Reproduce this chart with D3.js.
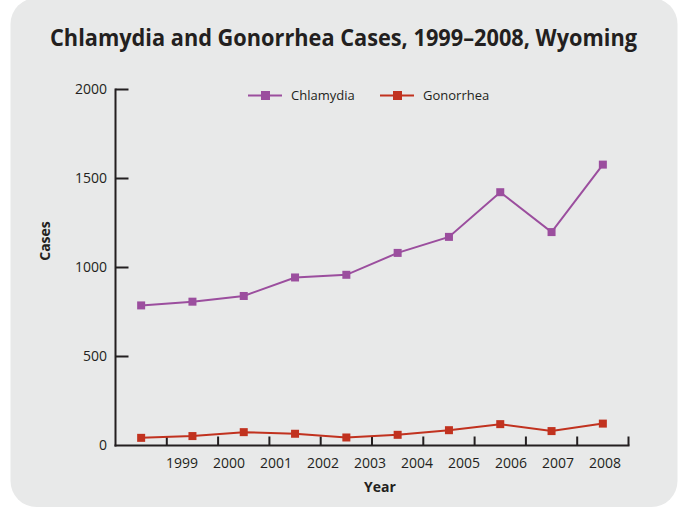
<!DOCTYPE html>
<html>
<head>
<meta charset="utf-8">
<script src="https://cdn.jsdelivr.net/npm/d3@7"></script>
<style>
  html, body { margin: 0; padding: 0; background: #ffffff; }
  svg { display: block; font-family: "Open Sans", "DejaVu Sans", sans-serif; }
</style>
</head>
<body>
<svg id="chart" width="684" height="508"></svg>
<script>
(function () {
  "use strict";

  // ── Data ───────────────────────────────────────────────────────────────────
  var years = ["1999", "2000", "2001", "2002", "2003", "2004", "2005", "2006", "2007", "2008"];
  var chlamydia = [787, 808, 840, 944, 959, 1082, 1172, 1423, 1199, 1578];
  var gonorrhea = [43, 53, 75, 66, 45, 60, 86, 120, 81, 123];
  var yTicks = [0, 500, 1000, 1500, 2000];

  var C = {
    panel: "#e8e9e9",
    ink: "#231f20",
    chlamydia: "#9b4e9e",
    gonorrhea: "#c1321f"
  };

  var svg = d3.select("#chart");

  // panel background
  svg.append("rect")
    .attr("x", 10.5).attr("y", -2)
    .attr("width", 667).attr("height", 509)
    .attr("rx", 26).attr("ry", 26)
    .attr("fill", C.panel);

  // ── Scales ─────────────────────────────────────────────────────────────────
  var x = d3.scaleBand().domain(years).range([115.5, 628.5]).padding(0);
  var xLabel = d3.scalePoint().domain(years).range([182, 605]);
  var y = d3.scaleLinear().domain([0, 2000]).range([445.5, 89.5]);

  function cx(d, i) { return x(years[i]) + x.bandwidth() / 2; }

  // ── Axes ───────────────────────────────────────────────────────────────────
  var axisG = svg.append("g").attr("stroke", C.ink).attr("stroke-width", 2).attr("fill", "none");

  axisG.append("line")
    .attr("x1", x.range()[0]).attr("x2", x.range()[0])
    .attr("y1", y(2000) - 1).attr("y2", y(0) + 1);
  axisG.append("line")
    .attr("x1", x.range()[0] - 1).attr("x2", x.range()[1] + 1)
    .attr("y1", y(0)).attr("y2", y(0));

  // y ticks (inward)
  axisG.selectAll("line.yt")
    .data(yTicks.slice(1))
    .join("line")
    .attr("class", "yt")
    .attr("x1", x.range()[0]).attr("x2", x.range()[0] + 13)
    .attr("y1", function (d) { return y(d); })
    .attr("y2", function (d) { return y(d); });

  // x ticks (upward, at band right edges)
  axisG.selectAll("line.xt")
    .data(years)
    .join("line")
    .attr("class", "xt")
    .attr("x1", function (d) { return x(d) + x.bandwidth(); })
    .attr("x2", function (d) { return x(d) + x.bandwidth(); })
    .attr("y1", y(0)).attr("y2", y(0) - 9);

  svg.append("g").selectAll("text")
    .data(yTicks)
    .join("text")
    .attr("x", 107)
    .attr("y", function (d) { return y(d); })
    .attr("dy", "0.35em")
    .attr("text-anchor", "end")
    .attr("font-size", 14)
    .attr("fill", C.ink)
    .text(function (d) { return d; });

  svg.append("g").selectAll("text")
    .data(years)
    .join("text")
    .attr("x", function (d) { return xLabel(d); })
    .attr("y", 468)
    .attr("text-anchor", "middle")
    .attr("font-size", 14)
    .attr("fill", C.ink)
    .text(function (d) { return d; });

  // axis titles
  svg.append("text")
    .attr("x", 380).attr("y", 492)
    .attr("text-anchor", "middle")
    .attr("font-size", 14).attr("font-weight", "bold")
    .attr("fill", C.ink)
    .text("Year");

  svg.append("text")
    .attr("transform", "translate(50,241) rotate(-90)")
    .attr("text-anchor", "middle")
    .attr("font-size", 14).attr("font-weight", "bold")
    .attr("fill", C.ink)
    .text("Cases");

  // title
  svg.append("text")
    .attr("x", 50).attr("y", 46)
    .attr("font-size", 23).attr("font-weight", "bold")
    .attr("textLength", 587).attr("lengthAdjust", "spacingAndGlyphs")
    .attr("fill", C.ink)
    .text("Chlamydia and Gonorrhea Cases, 1999\u20132008, Wyoming");

  // ── Series ─────────────────────────────────────────────────────────────────
  var line = d3.line().x(cx).y(function (d) { return y(d); });

  function drawSeries(values, color) {
    var g = svg.append("g");
    g.append("path")
      .datum(values)
      .attr("d", line)
      .attr("fill", "none")
      .attr("stroke", color)
      .attr("stroke-width", 2);
    g.selectAll("rect")
      .data(values)
      .join("rect")
      .attr("x", function (d, i) { return cx(d, i) - 4; })
      .attr("y", function (d) { return y(d) - 4; })
      .attr("width", 8).attr("height", 8)
      .attr("fill", color);
  }

  drawSeries(chlamydia, C.chlamydia);
  drawSeries(gonorrhea, C.gonorrhea);

  // ── Legend ─────────────────────────────────────────────────────────────────
  var legend = [
    { name: "Chlamydia", color: C.chlamydia, x: 248 },
    { name: "Gonorrhea", color: C.gonorrhea, x: 380 }
  ];
  var lg = svg.append("g").selectAll("g")
    .data(legend)
    .join("g")
    .attr("transform", function (d) { return "translate(" + d.x + ",95.5)"; });
  lg.append("line")
    .attr("x1", 0).attr("x2", 34)
    .attr("stroke", function (d) { return d.color; })
    .attr("stroke-width", 2);
  lg.append("rect")
    .attr("x", 13).attr("y", -4.5)
    .attr("width", 9).attr("height", 9)
    .attr("fill", function (d) { return d.color; });
  lg.append("text")
    .attr("x", 43).attr("y", 4.5)
    .attr("font-size", 13)
    .attr("fill", C.ink)
    .text(function (d) { return d.name; });
})();
</script>
</body>
</html>
